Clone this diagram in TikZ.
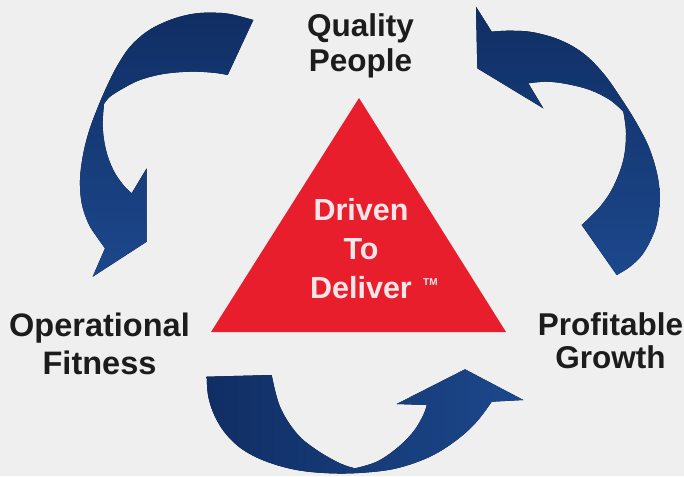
\documentclass[tikz,border=0pt]{standalone}
\usepackage{fontspec}
\setmainfont{Liberation Sans}
\usepackage{tikz}
\usetikzlibrary{positioning}
\definecolor{bggray}{RGB}{239,239,239}
\definecolor{navy}{RGB}{16,46,100}
\definecolor{midblue}{RGB}{28,72,140}
\definecolor{signred}{RGB}{233,30,45}
\definecolor{inkgray}{RGB}{28,28,28}
\definecolor{paleink}{RGB}{247,230,232}

\begin{document}
\begin{tikzpicture}[x=1pt,y=-1pt,
  ribbon/.style={top color=navy,bottom color=midblue,draw=none},
  label/.style={font=\bfseries\fontsize{31.5}{35.5}\selectfont,text=inkgray,align=center,inner sep=0pt},
  motto/.style={font=\bfseries\fontsize{30.5}{39}\selectfont,text=paleink,align=center,inner sep=0pt}]
  \useasboundingbox (0,0) rectangle (684,476);
  \fill[bggray] (0,0) rectangle (684,476);

  % left arrow, Quality People -> Operational Fitness
  \fill[ribbon] (253.3,20) -- plot[smooth,tension=0.6] coordinates {(253.3,20) (230,14) (213.3,12.7) (196.7,13.3) (180,16.7) (163.3,22.7) (146.7,31.7) (130,46.7) (116.7,66.7) (106.7,86.7) (96.7,110) (88.3,133.3) (82.7,156.7) (80,180) (81.7,203.3) (88.3,223.3) (96.7,236.7) (105,248.3)}
    -- (92.7,276.7) -- (146.7,241.7) -- (146.7,168.3) -- (131.7,193.3)
    -- plot[smooth,tension=0.6] coordinates {(131.7,193.3) (123.3,185) (113.3,170) (106,150) (102.7,126.7) (104,104)}
    -- plot[smooth,tension=0.6] coordinates {(104,104) (110,96.7) (123.3,88.3) (140,80) (163.3,74) (190,71.7) (213.3,72.7) (227.7,75)}
    -- cycle;

  % right arrow, Profitable Growth -> Quality People
  \fill[ribbon] (476,6.7) -- (491.7,31.7)
    -- plot[smooth,tension=0.6] coordinates {(491.7,31.7) (510,30.7) (533.3,32.3) (560,40) (583.3,53.3) (603.3,73.3) (620,96.7) (636.7,123.3) (650,150) (658.3,180) (659.3,206.7) (655,230) (643.3,253.3) (630,266.7) (616.7,275)}
    -- (581.7,225)
    -- plot[smooth,tension=0.6] coordinates {(581.7,225) (600,206.7) (613.3,186.7) (623.3,160) (626,133.3) (623.3,111.7)}
    -- plot[smooth,tension=0.6] coordinates {(623.3,111.7) (610,100) (590,90) (566.7,84) (546.7,81.7) (528.3,83.3)}
    -- (543.3,108.3) -- (477.3,68.3) -- cycle;

  % bottom arrow, Operational Fitness -> Profitable Growth
  \fill[left color=navy,right color=midblue] (206.7,376.7)
    -- plot[smooth,tension=0.6] coordinates {(206.7,376.7) (208.3,396.7) (215,416.7) (226.7,435) (243.3,450) (266.7,461.7) (296.7,470) (330,473.3) (363.3,472.7) (396.7,468.3) (430,456.7) (456.7,440) (476.7,421.7) (491.7,401.7)}
    -- (523.3,400) -- (465,369.3) -- (396.7,404) -- (426.7,405)
    -- plot[smooth,tension=0.6] coordinates {(426.7,405) (423.3,415) (413.3,431.7) (396.7,448.3) (376.7,461.7) (355,468.3)}
    -- plot[smooth,tension=0.6] coordinates {(355,468.3) (340,463.3) (316.7,450) (296.7,433.3) (280,406.7) (271.7,375)}
    -- cycle;

  % the triangle in the middle
  \coordinate (apex) at (359,98);
  \coordinate (baseL) at (211,332);
  \coordinate (baseR) at (506,332);
  \fill[signred] (apex) -- (baseR) -- (baseL) -- cycle;

  % multi-line nodes sit on the baseline of their last line
  \node[motto,anchor=base] (motto) at (361,298) {Driven\\To\\Deliver};
  \node[font=\bfseries\fontsize{10}{10}\selectfont,text=paleink,anchor=base west,inner sep=0pt] (tm) at (423,285) {TM};

  \node[label,anchor=base] (quality) at (360.5,72) {Quality\\People};
  \node[label,anchor=base,font=\bfseries\fontsize{32.5}{38}\selectfont] (fitness) at (99.5,374) {Operational\\Fitness};
  \node[label,anchor=base,font=\bfseries\fontsize{31.5}{33.5}\selectfont] (growth) at (610.5,368.5) {Profitable\\Growth};
\end{tikzpicture}
\end{document}
